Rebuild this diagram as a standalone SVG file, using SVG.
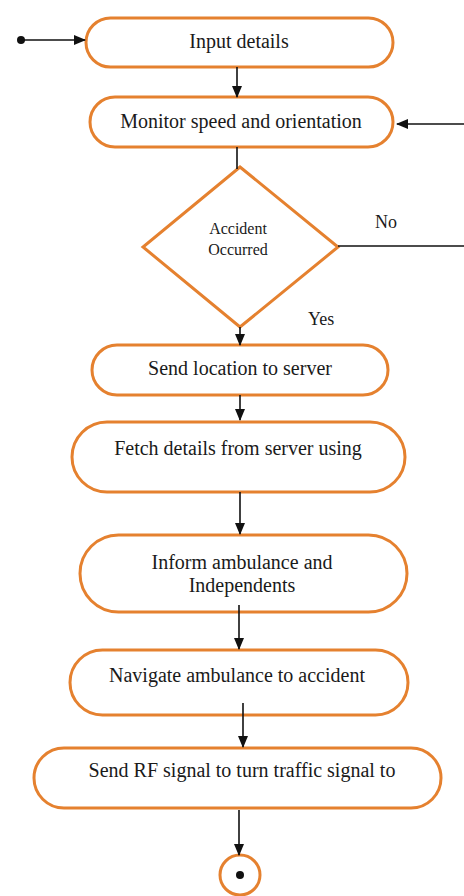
<svg xmlns="http://www.w3.org/2000/svg" width="464" height="896" viewBox="0 0 464 896">
<defs>
<marker id="ah" markerUnits="userSpaceOnUse" markerWidth="12" markerHeight="10" refX="11" refY="5" orient="auto">
<path d="M0,0 L12,5 L0,10 Z" fill="#111"/>
</marker>
<style>
.n{fill:#fff;stroke:#E5812F;stroke-width:3}
.t{font-size:20px;fill:#1a1a1a;text-anchor:middle}
.s{font-size:16px;fill:#1a1a1a;text-anchor:middle}
.l{font-size:18px;fill:#1a1a1a}
.c{stroke:#111;stroke-width:1.6;fill:none}
</style>
</defs>
<rect width="464" height="896" fill="#fff"/>
<g font-family="'Liberation Serif', 'DejaVu Serif', serif">
<g id="n1"><rect class="n" x="86" y="18" width="307" height="49" rx="24.5"/><text class="t" x="239" y="48">Input details</text></g>
<g id="n2"><rect class="n" x="90" y="97" width="303" height="50" rx="25"/><text class="t" x="241" y="128">Monitor speed and orientation</text></g>
<g id="d1"><polygon class="n" points="240,167 338,247 240,327 143,247"/><text class="s" x="238" y="234">Accident</text><text class="s" x="238" y="255">Occurred</text></g>
<g id="n3"><rect class="n" x="92" y="345" width="296" height="50" rx="25"/><text class="t" x="240" y="375">Send location to server</text></g>
<g id="n4"><rect class="n" x="72" y="422" width="333" height="70" rx="35"/><text class="t" x="238" y="455">Fetch details from server using</text></g>
<g id="n5"><rect class="n" x="80" y="535" width="327" height="77" rx="38.5"/><text class="t" x="242" y="569">Inform ambulance and</text><text class="t" x="242" y="592">Independents</text></g>
<g id="n6"><rect class="n" x="70" y="650" width="338" height="65" rx="32.5"/><text class="t" x="237" y="682">Navigate ambulance to accident</text></g>
<g id="n7"><rect class="n" x="34" y="748" width="407" height="60" rx="30"/><text class="t" x="242" y="777">Send RF signal to turn traffic signal to</text></g>
<g id="start"><circle cx="21" cy="40" r="4" fill="#111"/></g>
<g id="end"><circle class="n" cx="240" cy="875" r="20"/><circle cx="240" cy="875" r="4" fill="#111"/></g>
<g id="connectors">
<line class="c" x1="21" y1="40" x2="85" y2="40" marker-end="url(#ah)"/>
<line class="c" x1="237" y1="67" x2="237" y2="97" marker-end="url(#ah)"/>
<line class="c" x1="464" y1="124" x2="397" y2="124" marker-end="url(#ah)"/>
<line class="c" x1="237" y1="147" x2="237" y2="169"/>
<line class="c" x1="338" y1="246" x2="464" y2="246"/>
<line class="c" x1="240" y1="327" x2="240" y2="345" marker-end="url(#ah)"/>
<line class="c" x1="240" y1="395" x2="240" y2="420" marker-end="url(#ah)"/>
<line class="c" x1="240" y1="492" x2="240" y2="534" marker-end="url(#ah)"/>
<line class="c" x1="239" y1="605" x2="239" y2="649" marker-end="url(#ah)"/>
<line class="c" x1="243" y1="703" x2="243" y2="747" marker-end="url(#ah)"/>
<line class="c" x1="239" y1="810" x2="239" y2="855" marker-end="url(#ah)"/>
<text class="l" x="375" y="228">No</text>
<text class="l" x="308" y="325">Yes</text>
</g>
</g>
</svg>
